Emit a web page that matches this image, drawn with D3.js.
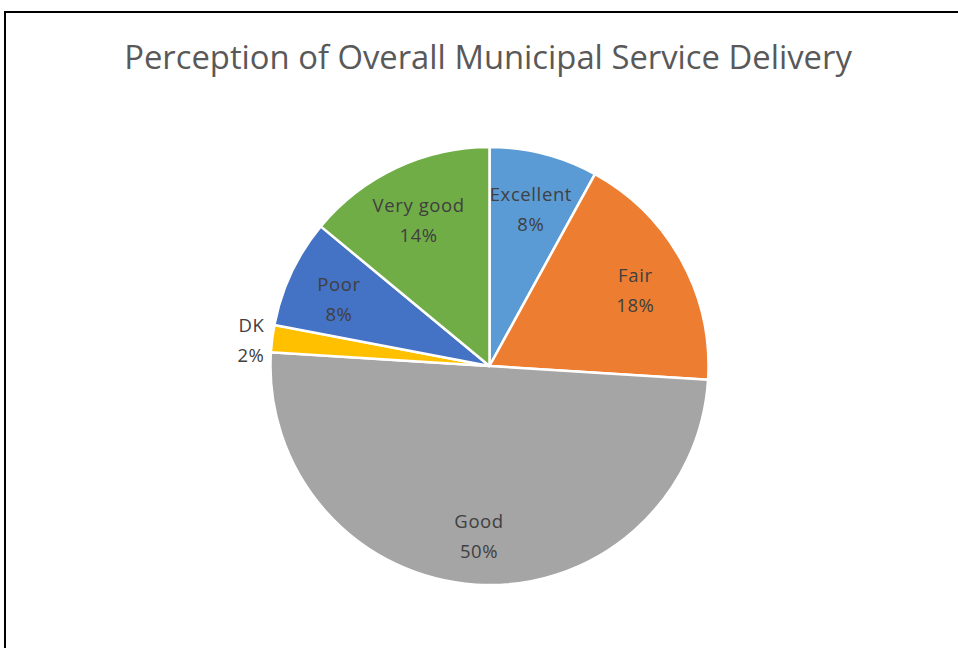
<!DOCTYPE html>
<html>
<head>
<meta charset="utf-8">
<script src="https://cdn.jsdelivr.net/npm/d3@7"></script>
<style>
  html, body { margin: 0; padding: 0; background: #fff; }
  svg { display: block; }
</style>
</head>
<body>
<svg id="chart" width="958" height="648"></svg>
<script>
// Survey responses, clockwise from 12 o'clock
const categories = ["Excellent", "Fair", "Good", "DK", "Poor", "Very good"];
const shares = [8, 18, 50, 2, 8, 14];
const sliceColors = ["#5B9BD5", "#ED7D31", "#A5A5A5", "#FFC000", "#4472C4", "#70AD47"];
const titleText = "Perception of Overall Municipal Service Delivery";

const width = 958, height = 648;
const svg = d3.select("#chart");

// chart frame (runs past the right and bottom edges)
svg.append("rect")
  .attr("x", 5).attr("y", 12)
  .attr("width", 970).attr("height", 660)
  .attr("fill", "#fff")
  .attr("stroke", "#000")
  .attr("stroke-width", 2);

// title, sized to its target width
const title = svg.append("text")
  .attr("x", 488).attr("y", 69)
  .attr("text-anchor", "middle")
  .attr("fill", "#595959")
  .attr("font-family", "'Open Sans', 'Noto Sans', sans-serif")
  .attr("font-size", 30)
  .text(titleText);
const tw = title.node().getComputedTextLength();
title.attr("font-size", 30 * 728 / tw);

const cx = 489.5, cy = 366, r = 219;
const g = svg.append("g").attr("transform", `translate(${cx},${cy})`);

const data = categories.map((c, i) => ({ name: c, value: shares[i], color: sliceColors[i] }));
const pie = d3.pie().value(d => d.value).sort(null);
const arcs = pie(data);

const arc = d3.arc().innerRadius(0).outerRadius(r);
const labelArc = d3.arc().innerRadius(r * 0.76).outerRadius(r * 0.76);
const outerArc = d3.arc().innerRadius(r * 1.1).outerRadius(r * 1.1);

g.selectAll("path.slice")
  .data(arcs)
  .join("path")
  .attr("class", "slice")
  .attr("d", arc)
  .attr("fill", d => d.data.color)
  .attr("stroke", "#fff")
  .attr("stroke-width", 2.5)
  .attr("stroke-linejoin", "round");

const fmt = d => d3.format(".0f")(d.data.value) + "%";
const labelFont = "'Open Sans', 'Noto Sans', sans-serif";

arcs.forEach(d => {
  const small = d.data.value < 5;
  let x, y, anchor;
  if (small) {
    [x, y] = outerArc.centroid(d);
    x += 14;
    anchor = "end";
  } else {
    [x, y] = labelArc.centroid(d);
    anchor = "middle";
  }
  const t = g.append("text")
    .attr("x", x).attr("y", y)
    .attr("text-anchor", anchor)
    .attr("fill", "#404040")
    .attr("font-family", labelFont)
    .attr("font-size", 18.5)
    .attr("letter-spacing", 0.6);
  t.append("tspan").attr("x", x).attr("dy", "-0.2em").text(d.data.name);
  t.append("tspan").attr("x", x).attr("dy", "1.62em").text(fmt(d));
});
</script>
</body>
</html>
